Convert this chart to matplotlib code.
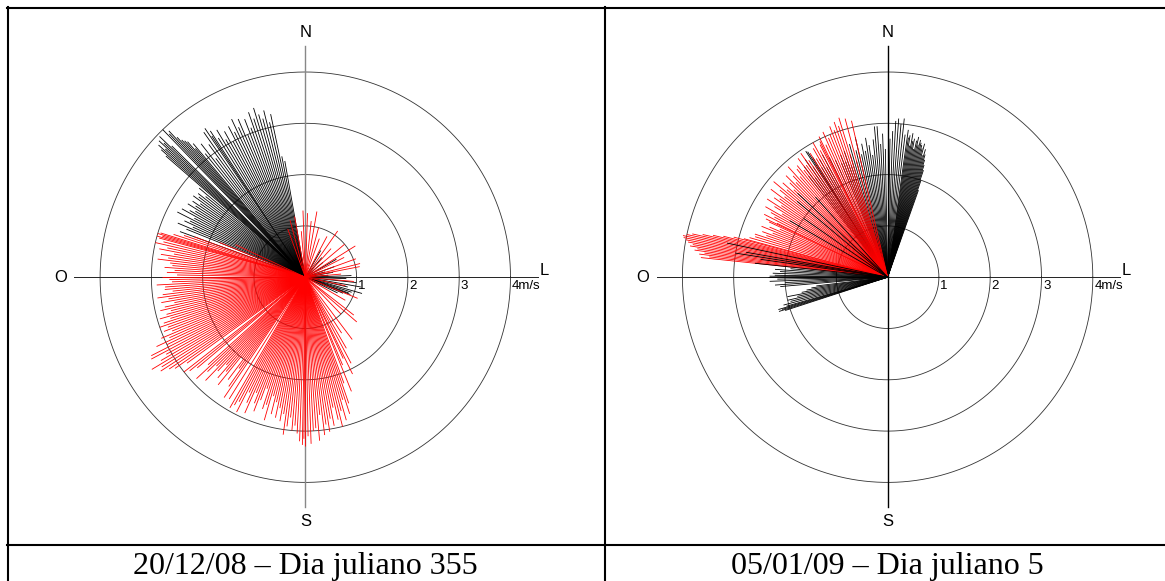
import numpy as np
import matplotlib
matplotlib.use('Agg')
import matplotlib.pyplot as plt
from matplotlib.collections import LineCollection
from matplotlib.lines import Line2D

# wind vectors: bearing (deg, clockwise from N) and speed (m/s)
# --- 20/12/08 (dia juliano 355)
black1_dir = [30, 40, 50, 60, 70, 75, 80, 85, 88, 92, 96, 100, 103, 106, 108, 110, 111, 113, 116,
              290, 292, 293, 294, 295, 296, 297, 298, 299, 300, 301, 302, 303, 304, 305, 306, 307, 308, 309, 310,
              311, 311.5, 312, 312.5, 313, 313.5, 314, 314.5, 316, 316.5, 317, 317.5, 318, 318.5, 319, 319.5, 320,
              321, 322, 323, 324, 325, 326, 326.5, 327, 328, 329, 330, 331, 332, 333, 334, 335, 336, 337, 338,
              339, 340, 341, 342, 343, 344, 345, 346, 347, 348, 349, 350]
black1_spd = [0.6, 0.5, 0.45, 0.7, 0.6, 0.4, 0.55, 0.45, 0.9, 0.8, 1.0, 1.1, 0.85, 1.15, 0.95, 0.9, 0.94, 0.8, 0.7,
              2.6, 2.5, 2.7, 2.4, 2.6, 2.5, 2.8, 2.45, 2.75, 2.6, 2.5, 2.7, 2.55, 2.65, 2.5, 2.7, 2.6, 2.65, 2.5, 2.7,
              3.6, 3.75, 3.85, 3.7, 3.9, 3.8, 3.95, 3.65, 4.0, 3.85, 3.9, 3.7, 3.6, 3.55, 3.5, 3.3, 3.4,
              3.1, 3.3, 2.9, 3.2, 3.45, 3.5, 3.3, 3.4, 3.2, 3.35, 3.1, 3.25, 3.0, 3.3, 3.15, 3.4, 3.2, 3.35, 3.0,
              3.3, 3.1, 3.4, 3.25, 3.45, 3.3, 3.2, 3.35, 3.1, 3.25, 2.4, 2.3]

red1_dir = [340, 345, 350, 355, 358, 2, 6, 10, 15, 20, 28, 35, 42, 50, 58, 63, 70, 76, 79, 85, 95, 102,
            112, 120, 128, 131, 136, 143, 147,
            150, 152, 154, 155, 157, 158, 160, 161, 162, 163, 164, 165, 166, 167, 168, 169, 170, 171,
            172, 173, 174, 175, 176, 177, 178, 179, 180, 180.5, 181, 182, 183, 184, 185, 186, 187, 188, 189, 190,
            191, 192,
            193, 194, 195, 196, 197, 198, 199, 200, 201, 202, 203, 204, 205, 206, 207, 208, 209, 210, 212, 214,
            215, 216, 217, 218, 219, 220, 221, 222, 223, 224, 225, 226, 227, 228, 230, 231, 232, 234, 235, 236, 237,
            238, 239, 240, 241, 242, 243, 244, 245, 246, 247, 248, 249, 250, 251, 252, 253, 254, 255, 256, 257,
            258, 259,
            260, 261, 262, 263, 264, 265, 266, 267, 268, 269, 270, 271, 272, 273, 274, 275, 276, 277, 278, 279, 280,
            281, 282, 283, 284, 285, 285.5, 286, 286.5, 287, 288, 289, 290, 292, 295]
red1_spd = [1.0, 1.15, 1.2, 0.9, 1.3, 1.25, 1.1, 1.3, 1.0, 0.8, 0.9, 1.1, 0.75, 1.0, 1.15, 0.85, 1.05, 1.1,
            1.08, 0.7, 0.95, 0.8, 1.1, 0.9, 1.2, 1.33, 1.0, 1.52, 1.3,
            1.6, 1.9, 2.1, 1.75, 1.86, 2.4, 2.2, 2.6, 2.8, 2.5, 2.9, 2.7, 3.0, 2.85, 2.6, 2.95, 2.8, 3.05,
            2.9, 3.1, 2.7, 3.2, 2.95, 3.0, 3.25, 3.1, 3.3, 3.15, 3.27, 3.2, 3.05, 2.9, 3.0, 2.75, 2.93, 3.1, 2.7,
            2.85, 2.6, 2.8,
            2.5, 2.75, 2.4, 2.9, 2.6, 2.7, 2.3, 2.55, 2.8, 2.65, 2.45, 2.9, 2.7, 2.5, 2.95, 2.75, 2.85, 2.94, 2.8,
            2.83,
            2.6, 2.2, 2.5, 2.0, 2.7, 2.4, 2.6, 2.3, 2.5, 2.8, 2.45, 2.65, 2.9, 2.55, 2.75, 2.9, 3.0, 2.85, 3.1,
            3.2, 3.36,
            3.3, 3.49, 3.25, 3.1, 3.4, 3.37, 3.0, 3.2, 2.9, 3.05, 2.8, 2.95, 2.85, 3.0, 2.9, 2.75, 2.95, 2.8, 2.7,
            2.9, 2.8, 2.6,
            2.85, 2.7, 2.91, 2.8, 2.6, 2.75, 2.74, 2.9, 2.6, 2.65, 2.8, 2.5, 2.7, 2.55, 2.75, 2.6, 2.65, 2.9, 2.7,
            2.85, 2.6,
            2.9, 2.75, 3.0, 2.85, 2.95, 3.0, 2.9, 3.0, 2.95, 2.7, 2.5, 2.3, 1.8, 1.5]

# --- 05/01/09 (dia juliano 5)
# black, northern sector (drawn under the red)
black2n_dir = [8, 8.5, 9, 9.5, 10, 10.5, 11, 11.5, 12, 12.5, 13, 13.5, 14, 14.5, 15, 15.5, 16, 16.5, 17,
               17.5, 18, 18.5, 19, 19.5,
               354, 355, 356, 357, 358, 359, 0, 1, 2, 3, 4, 5, 6, 7,
               340, 341, 342, 343, 344, 345, 346, 347, 348, 349, 350, 351, 352, 353,
               322, 323, 324, 325, 326, 327, 327.5, 328, 329, 330, 331, 332, 334, 336, 338, 339]
black2n_spd = [2.9, 2.75, 2.8, 2.6, 2.85, 2.7, 2.75, 2.55, 2.72, 2.8, 2.65, 2.75, 2.7, 2.66, 2.6, 2.7, 2.47,
               2.6, 2.5, 2.4, 2.3, 2.2, 2.0, 1.8,
               2.7, 2.95, 2.95, 2.6, 2.8, 2.5, 2.98, 2.7, 2.85, 3.05, 3.1, 3.0, 3.11, 2.8,
               2.4, 2.6, 2.3, 2.5, 2.7, 2.35, 2.55, 2.8, 2.45, 2.65, 2.5, 2.75, 2.6, 2.4,
               2.5, 2.7, 2.4, 2.8, 2.6, 2.93, 2.9, 2.75, 2.5, 2.65, 2.45, 2.7, 2.6, 2.5, 2.4, 2.55]
# black, western sector (drawn over the red)
black2w_dir = [300, 305, 310, 313, 318,
               276, 278, 279, 280, 282,
               265, 266, 267, 268, 269, 270, 270.5, 271, 272, 273, 274, 275,
               252, 252.5, 253, 253.5, 254, 255, 256, 257, 258, 259, 260, 261, 262, 263]
black2w_spd = [2.2, 2.0, 2.3, 2.4, 2.1,
               2.6, 2.5, 3.0, 2.8, 3.2,
               2.1, 2.2, 2.0, 2.3, 2.15, 2.34, 2.3, 2.2, 2.24, 2.1, 2.2, 1.9,
               2.1, 2.22, 2.15, 2.22, 2.05, 2.1, 1.95, 2.0, 1.8, 1.99, 1.7, 1.6, 1.5, 1.4]

red2_dir = [276, 276.5, 277, 277.5, 278, 278.5, 279, 279.5, 280, 280.5, 281, 281.5, 282, 282.5, 283,
            283.5, 284, 284.6, 285, 286,
            287, 288, 289, 290, 291, 292, 293, 294, 295, 295.6, 296, 297, 298, 299, 300, 301,
            302, 303, 304, 305, 306, 307, 308, 309, 310, 311, 312, 313, 314, 315, 316, 317, 318, 319, 320,
            321, 322, 323, 324, 325, 326, 327, 328, 329, 330, 331, 332, 333, 333.5, 334, 335, 336, 337, 338,
            339, 340, 341, 342, 343, 345, 347]
red2_spd = [3.66, 3.5, 3.7, 3.6, 3.8, 3.75, 3.9, 3.85, 3.95, 4.0, 4.05, 4.07, 4.0, 3.9, 3.7, 3.5, 3.3, 3.1,
            2.9, 2.8,
            2.7, 2.72, 2.5, 2.6, 2.4, 2.65, 2.5, 2.3, 2.55, 2.63, 2.4, 2.7, 2.5, 2.6, 2.75, 2.4,
            2.6, 2.8, 2.5, 2.7, 2.6, 2.85, 2.55, 2.7, 2.9, 2.6, 2.75, 2.5, 2.65, 2.8, 2.57, 2.7, 2.9, 2.6, 2.75,
            2.8, 2.65, 2.9, 2.7, 2.95, 2.75, 2.6, 2.85, 2.7, 2.9, 3.0, 2.8, 2.9, 2.96, 3.05, 2.85, 3.1, 2.95, 3.0,
            3.15, 3.05, 3.2, 3.1, 3.25, 3.2, 3.13]

rings = [1, 2, 3, 4]
ring_labels = ['1', '2', '3', '4m/s']
captions = ['20/12/08 \u2013 Dia juliano 355', '05/01/09 \u2013 Dia juliano 5']

W, H = 1165, 581
PX = 51.3   # pixels per m/s
R = 5.0

fig = plt.figure(figsize=(W / 100, H / 100), dpi=100)


def vectors(ax, dirs, spds, color, z):
    b = np.radians(np.array(dirs))
    s = np.array(spds)
    segs = [[(0, 0), (si * np.sin(bi), si * np.cos(bi))] for bi, si in zip(b, s)]
    ax.add_collection(LineCollection(segs, colors=color, linewidths=0.6, zorder=z))


def panel(cx, cy, groups, vcolor):
    ax = fig.add_axes([(cx - R * PX) / W, 1 - (cy + R * PX) / H, 2 * R * PX / W, 2 * R * PX / H])
    ax.set_xlim(-R, R)
    ax.set_ylim(-R, R)
    ax.axis('off')
    t = np.linspace(0, 2 * np.pi, 400)
    for r in rings:
        ax.plot(r * np.cos(t), r * np.sin(t), color='#333333', lw=0.6, zorder=1)
    ax.plot([-4.5, 4.53], [0, 0], color='#222222', lw=0.7, zorder=2)
    ax.plot([0, 0], [-4.48, 4.5], color=vcolor, lw=1.0, zorder=2)
    for r, lab in zip(rings, ring_labels):
        ax.text(r + 0.03, -0.18, lab, ha='left', va='center', fontsize=9.5, family='Liberation Sans')
    kw = dict(fontsize=12, family='Liberation Sans')
    ax.text(0, 4.77, 'N', ha='center', va='center', **kw)
    ax.text(0, -4.76, 'S', ha='center', va='center', **kw)
    ax.text(-4.77, 0, 'O', ha='center', va='center', **kw)
    ax.text(4.56, -0.02, 'L', ha='left', va='bottom', **kw)
    for z, (d, s, c) in enumerate(groups):
        vectors(ax, d, s, c, 3 + z)
    return ax


panel(305.3, 277.2, [(black1_dir, black1_spd, 'black'), (red1_dir, red1_spd, 'red')], '#888888')
panel(887.6, 277.2, [(black2n_dir, black2n_spd, 'black'), (red2_dir, red2_spd, 'red'),
                     (black2w_dir, black2w_spd, 'black')], 'black')

# table borders
def hline(y, x0, x1):
    fig.add_artist(Line2D([x0 / W, x1 / W], [1 - y / H, 1 - y / H], color='black', lw=1.5,
                          transform=fig.transFigure))


def vline(x, y0, y1):
    fig.add_artist(Line2D([x / W, x / W], [1 - y0 / H, 1 - y1 / H], color='black', lw=1.5,
                          transform=fig.transFigure))


hline(8.3, 7.3, 1165)
hline(545, 7.3, 1165)
vline(8.3, 7.3, 581)
vline(605, 7.3, 581)

fig.text(305 / W, 1 - 574 / H, captions[0], ha='center', va='baseline', fontsize=23, family='Liberation Serif')
fig.text(887 / W, 1 - 574 / H, captions[1], ha='center', va='baseline', fontsize=23, family='Liberation Serif')

fig.savefig('out.png', dpi=100, facecolor='white')
